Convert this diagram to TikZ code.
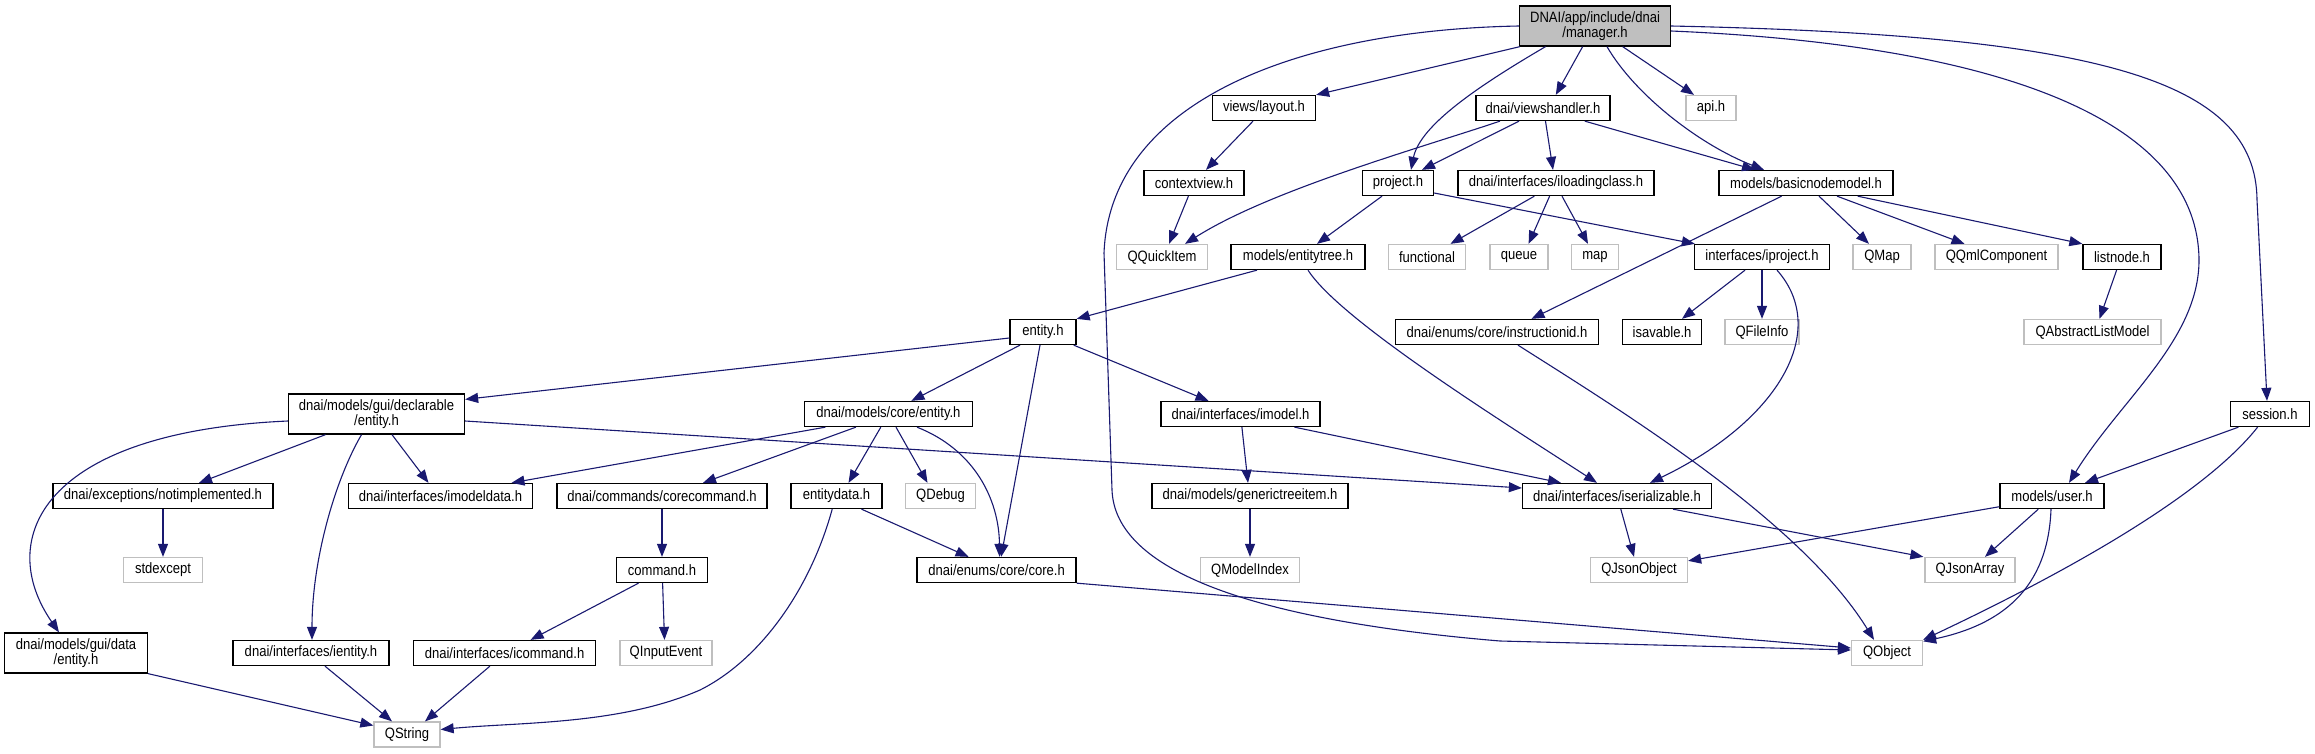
\documentclass[tikz,border=0pt]{standalone}
\usepackage{fontspec}
\setmainfont{Liberation Sans}[FakeStretch=0.87]
\usetikzlibrary{arrows.meta}
\definecolor{edgec}{RGB}{25,25,112}
\definecolor{extc}{RGB}{191,191,191}
\begin{document}
\begin{tikzpicture}[x=1pt,y=-1pt,
  box/.style={rectangle, draw=black, line width=1.3pt, fill=white, inner sep=0pt,
    minimum height=25pt, font=\fontsize{15}{15.5}\selectfont, align=center, text=black},
  ext/.style={box, draw=extc},
  root/.style={box, fill=extc, minimum height=40pt},
  two/.style={minimum height=40pt},
  edge/.style={draw=edgec, line width=1.1pt, -{Triangle[length=13pt,width=10pt]}}]
\useasboundingbox (0,0) rectangle (2315,753);
% row 0
\node[root, minimum width=151pt] (manager) at (1595,26) {DNAI/app/include/dnai\\/manager.h};
% row 1
\node[box, minimum width=103pt] (layout) at (1264,108) {views/layout.h};
\node[box, minimum width=134pt] (viewsh) at (1543,108) {dnai/viewshandler.h};
\node[ext, minimum width=50pt] (api) at (1711,108) {api.h};
% row 2
\node[box, minimum width=100pt] (contextview) at (1194,183) {contextview.h};
\node[box, minimum width=71pt] (project) at (1398,183) {project.h};
\node[box, minimum width=196pt] (iloading) at (1556,183) {dnai/interfaces/iloadingclass.h};
\node[box, minimum width=174pt] (basicnode) at (1806,183) {models/basicnodemodel.h};
% row 3
\node[ext, minimum width=91pt] (qquick) at (1162,257) {QQuickItem};
\node[box, minimum width=134pt] (entitytree) at (1298,257) {models/entitytree.h};
\node[ext, minimum width=77pt] (functional) at (1427,257) {functional};
\node[ext, minimum width=58pt] (queue) at (1519,257) {queue};
\node[ext, minimum width=47pt] (map) at (1595,257) {map};
\node[box, minimum width=135pt] (iproject) at (1762,257) {interfaces/iproject.h};
\node[ext, minimum width=58pt] (qmap) at (1882,257) {QMap};
\node[ext, minimum width=123pt] (qqml) at (1996.5,257) {QQmlComponent};
\node[box, minimum width=78pt] (listnode) at (2122,257) {listnode.h};
% row 4
\node[box, minimum width=66pt] (entity) at (1043,332) {entity.h};
\node[box, minimum width=203pt] (instrid) at (1497,332) {dnai/enums/core/instructionid.h};
\node[box, minimum width=79pt] (isavable) at (1662,332) {isavable.h};
\node[ext, minimum width=74pt] (qfileinfo) at (1762,332) {QFileInfo};
\node[ext, minimum width=137pt] (qalm) at (2092.5,332) {QAbstractListModel};
% row 5
\node[box, two, minimum width=176pt] (declent) at (376.5,414) {dnai/models/gui/declarable\\/entity.h};
\node[box, minimum width=168pt] (coreent) at (888.4,414) {dnai/models/core/entity.h};
\node[box, minimum width=159pt] (imodel) at (1240.5,414) {dnai/interfaces/imodel.h};
\node[box, minimum width=79pt] (session) at (2270,414) {session.h};
% row 6
\node[box, minimum width=220pt] (notimpl) at (163,496) {dnai/exceptions/notimplemented.h};
\node[box, minimum width=184pt] (imodeldata) at (440.5,496) {dnai/interfaces/imodeldata.h};
\node[box, minimum width=210pt] (corecmd) at (662,496) {dnai/commands/corecommand.h};
\node[box, minimum width=91pt] (entitydata) at (836.5,496) {entitydata.h};
\node[ext, minimum width=70pt] (qdebug) at (940.5,496) {QDebug};
\node[box, minimum width=196pt] (generic) at (1250,496) {dnai/models/generictreeitem.h};
\node[box, minimum width=189pt] (iserial) at (1617,496) {dnai/interfaces/iserializable.h};
\node[box, minimum width=104pt] (user) at (2052,496) {models/user.h};
% row 7
\node[ext, minimum width=79pt] (stdexcept) at (163,570) {stdexcept};
\node[box, minimum width=91pt] (command) at (662,570) {command.h};
\node[box, minimum width=159pt] (core) at (996.6,570) {dnai/enums/core/core.h};
\node[ext, minimum width=99pt] (qmodelindex) at (1250,570) {QModelIndex};
\node[ext, minimum width=97pt] (qjsonobj) at (1639,570) {QJsonObject};
\node[ext, minimum width=90pt] (qjsonarr) at (1970,570) {QJsonArray};
% row 8
\node[box, two, minimum width=143pt] (guidata) at (76,653) {dnai/models/gui/data\\/entity.h};
\node[box, minimum width=156pt] (ientity) at (311,653) {dnai/interfaces/ientity.h};
\node[box, minimum width=182pt] (icommand) at (504.6,653) {dnai/interfaces/icommand.h};
\node[ext, minimum width=92pt] (qinput) at (666,653) {QInputEvent};
\node[ext, minimum width=71pt] (qobject) at (1887,653) {QObject};
% row 9
\node[ext, minimum width=66pt] (qstring) at (407,734.5) {QString};

% edges from manager
\draw[edge] ([xshift=1pt]manager.south west) -- (layout.north east);
\draw[edge] ([xshift=-49.5pt]manager.south) .. controls (1480,85) and (1420,125) .. ([xshift=13pt]project.north);
\draw[edge] ([xshift=-12.4pt]manager.south) -- ([xshift=12.8pt]viewsh.north);
\draw[edge] ([xshift=12pt]manager.south) .. controls (1635,95) and (1700,145) .. ([xshift=-42pt]basicnode.north);
\draw[edge] ([xshift=27.7pt]manager.south) -- ([xshift=-17pt]api.north);
\draw[edge] (manager.west) .. controls (1300,30) and (1110,100) .. (1104,253) -- (1112,490) .. controls (1115,570) and (1250,620) .. (1500,641) -- ([yshift=3pt]qobject.west);
\draw[edge] (manager.east) .. controls (2100,35) and (2256,80) .. (2257,200) -- ([xshift=-3pt]session.north);
\draw[edge] ([yshift=-5pt]manager.east) .. controls (2000,45) and (2198,120) .. (2199,260) .. controls (2199,340) and (2120,400) .. ([xshift=17pt]user.north);
% row 1
\draw[edge] ([xshift=-11pt]layout.south) -- ([xshift=12pt]contextview.north);
\draw[edge] ([xshift=-5.6pt]contextview.south) -- ([xshift=7pt]qquick.north);
\draw[edge] ([xshift=-43pt]viewsh.south) .. controls (1420,148) and (1270,190) .. ([xshift=23pt]qquick.north);
\draw[edge] ([xshift=-24pt]viewsh.south) -- ([xshift=24pt]project.north);
\draw[edge] ([xshift=2.5pt]viewsh.south) -- ([xshift=-3pt]iloading.north);
\draw[edge] ([xshift=41.8pt]viewsh.south) -- ([xshift=-51pt]basicnode.north);
% row 2
\draw[edge] ([xshift=-16pt]project.south) -- ([xshift=19pt]entitytree.north);
\draw[edge] ([yshift=-10pt]project.east) -- ([xshift=1pt]iproject.north west);
\draw[edge] ([xshift=-21.6pt]iloading.south) -- ([xshift=23.5pt]functional.north);
\draw[edge] ([xshift=-6.4pt]iloading.south) -- ([xshift=9.6pt]queue.north);
\draw[edge] ([xshift=6pt]iloading.south) -- ([xshift=-7pt]map.north);
\draw[edge] ([xshift=-24.4pt]basicnode.south) -- ([xshift=34.5pt]instrid.north);
\draw[edge] ([xshift=13pt]basicnode.south) -- ([xshift=-13pt]qmap.north);
\draw[edge] ([xshift=31pt]basicnode.south) -- ([xshift=-32pt]qqml.north);
\draw[edge] ([xshift=51.6pt]basicnode.south) -- (listnode.north west);
% row 3
\draw[edge] ([xshift=-5.4pt]listnode.south) -- ([xshift=7pt]qalm.north);
\draw[edge] ([xshift=-41pt]entitytree.south) -- (entity.north east);
\draw[edge] ([xshift=10pt]entitytree.south) .. controls (1340,320) and (1500,420) .. ([xshift=-20pt]iserial.north);
\draw[edge] ([xshift=-17pt]iproject.south) -- ([xshift=20pt]isavable.north);
\draw[edge] (iproject.south) -- (qfileinfo.north);
\draw[edge] ([xshift=15pt]iproject.south) .. controls (1830,330) and (1780,420) .. ([xshift=33pt]iserial.north);
% row 4
\draw[edge] ([xshift=21pt]instrid.south) .. controls (1620,410) and (1800,520) .. ([xshift=-13pt]qobject.north);
\draw[edge] ([yshift=-6pt]entity.west) -- ([yshift=-6pt]declent.north east);
\draw[edge] ([xshift=-23pt]entity.south) -- ([xshift=23pt]coreent.north);
\draw[edge] ([xshift=-3pt]entity.south) -- ([xshift=4.5pt]core.north);
\draw[edge] ([xshift=30.7pt]entity.south) -- ([xshift=-32pt]imodel.north);
% row 5
\draw[edge] ([xshift=-51pt]declent.south) -- ([xshift=36pt]notimpl.north);
\draw[edge] ([xshift=15.5pt]declent.south) -- ([xshift=-12pt]imodeldata.north);
\draw[edge] ([xshift=-15pt]declent.south) .. controls (335,480) and (312,560) .. ([xshift=1pt]ientity.north);
\draw[edge] ([yshift=-7pt]declent.west) .. controls (40,432) and (-5,540) .. ([xshift=-17pt]guidata.north);
\draw[edge] ([yshift=-7pt]declent.east) -- ([yshift=8pt]iserial.west);
\draw[edge] ([xshift=-63pt]coreent.south) -- ([xshift=71pt]imodeldata.north);
\draw[edge] ([xshift=-32.5pt]coreent.south) -- ([xshift=41pt]corecmd.north);
\draw[edge] ([xshift=-7.6pt]coreent.south) -- ([xshift=12pt]entitydata.north);
\draw[edge] ([xshift=7.6pt]coreent.south) -- ([xshift=-13pt]qdebug.north);
\draw[edge] ([xshift=28.6pt]coreent.south) .. controls (975,450) and (999,500) .. ([xshift=3pt]core.north);
\draw[edge] ([xshift=1.4pt]imodel.south) -- ([xshift=-2pt]generic.north);
\draw[edge] ([xshift=54pt]imodel.south) -- ([xshift=-56pt]iserial.north);
\draw[edge] ([xshift=-31.6pt]session.south) -- ([xshift=33pt]user.north);
\draw[edge] ([xshift=-12.4pt]session.south) .. controls (2200,500) and (2050,580) .. (qobject.north east);
% row 6
\draw[edge] (notimpl.south) -- (stdexcept.north);
\draw[edge] (corecmd.south) -- (command.north);
\draw[edge] ([xshift=25pt]entitydata.south) -- ([xshift=-28pt]core.north);
\draw[edge] ([xshift=-4.3pt]entitydata.south) .. controls (810,590) and (760,660) .. (700,690) .. controls (620,725) and (520,722) .. ([yshift=5pt]qstring.east);
\draw[edge] (generic.south) -- (qmodelindex.north);
\draw[edge] ([xshift=3.8pt]iserial.south) -- ([xshift=-5pt]qjsonobj.north);
\draw[edge] ([xshift=56pt]iserial.south) -- ([xshift=-1pt]qjsonarr.north west);
\draw[edge] ([yshift=-10.7pt]user.west) -- ([yshift=-4pt]qjsonobj.north east);
\draw[edge] ([xshift=-13.7pt]user.south) -- ([xshift=15pt]qjsonarr.north);
\draw[edge] ([xshift=-1pt]user.south) .. controls (2048,590) and (2000,625) .. ([yshift=-1.5pt]qobject.north east);
% row 7
\draw[edge] ([xshift=-23.5pt]command.south) -- ([xshift=26pt]icommand.north);
\draw[edge] ([xshift=0.6pt]command.south) -- ([xshift=-1.5pt]qinput.north);
\draw[edge] (core.south east) -- ([yshift=5pt]qobject.west);
% row 8
\draw[edge] ([xshift=14pt]ientity.south) -- ([xshift=-15pt]qstring.north);
\draw[edge] ([xshift=-14.7pt]icommand.south) -- ([xshift=18pt]qstring.north);
\draw[edge] (guidata.south east) -- ([yshift=9pt]qstring.west);
\end{tikzpicture}
\end{document}
